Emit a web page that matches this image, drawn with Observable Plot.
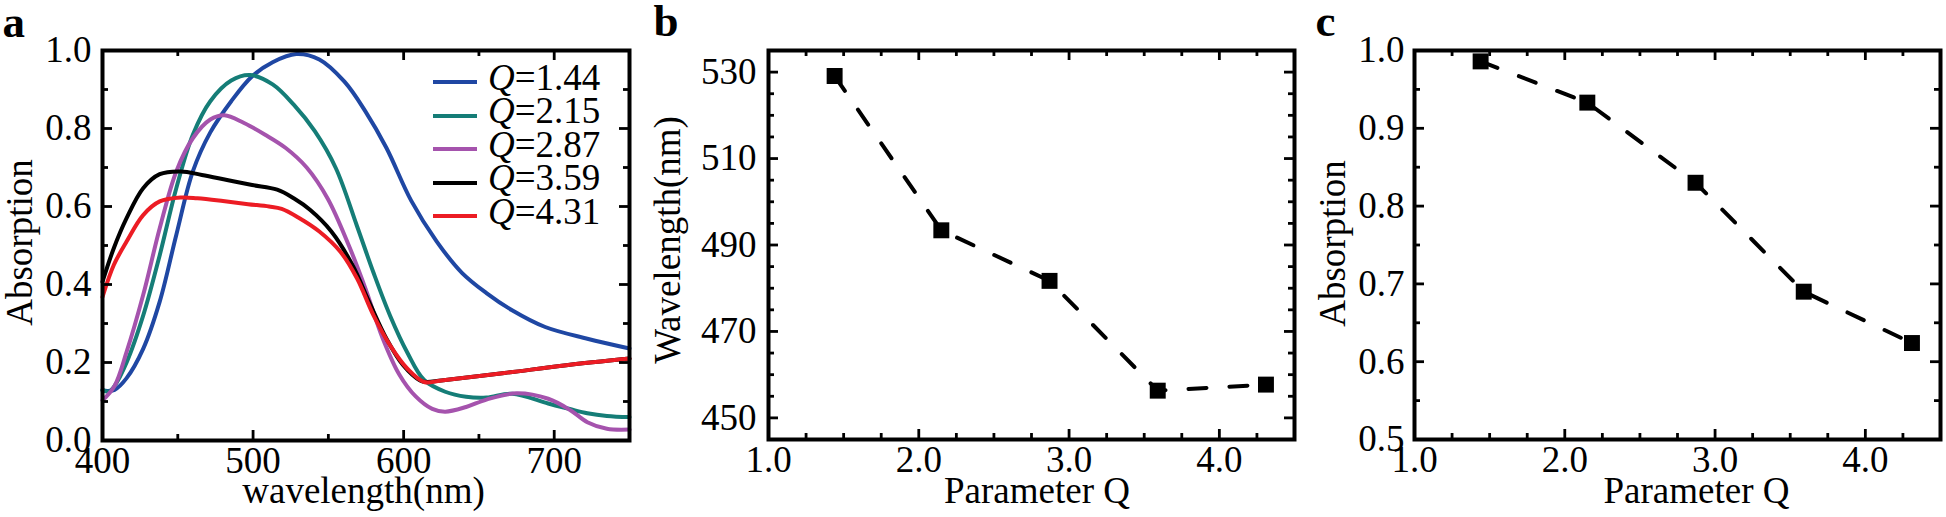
<!DOCTYPE html>
<html>
<head>
<meta charset="utf-8">
<script src="https://cdn.jsdelivr.net/npm/d3@7"></script>
<script src="https://cdn.jsdelivr.net/npm/@observablehq/plot@0.6"></script>
<style>
  html, body { margin: 0; padding: 0; background: #fff; }
  #root { position: relative; width: 1946px; height: 517px; overflow: hidden;
          font-family: "Liberation Serif", "Times New Roman", serif; color: #000; }
  .panel { position: absolute; top: 0; }
  #legend { position: absolute; left: 433px; top: 60.75px; font-size: 37px; }
  .row { display: flex; align-items: flex-start; height: 33.5px; line-height: 33.5px; white-space: nowrap; }
  .sw { width: 44px; height: 4px; margin-top: 19.25px; margin-right: 11px; flex: none; }
</style>
</head>
<body>
<div id="root">
  <div id="pa" class="panel" style="left:0px"></div>
  <div id="pb" class="panel" style="left:640px"></div>
  <div id="pc" class="panel" style="left:1290px"></div>
  <div id="legend"></div>
</div>
<script>
// ---------- Data (panel a: absorption spectra, [wavelength nm, absorption]) ----------
const qLabels = ["1.44", "2.15", "2.87", "3.59", "4.31"];
const qColors = ["#1f47a3", "#157d77", "#a553ad", "#000000", "#ec1c24"];

const specQ144 = [[400,0.128],[408,0.13],[416,0.16],[427,0.235],[438,0.356],[449,0.527],[460,0.69],[471.6,0.79],[485.5,0.87],[499.4,0.934],[513,0.97],[528.7,0.991],[544,0.977],[560.7,0.92],[574.6,0.844],[588.6,0.75],[605,0.615],[622,0.51],[638.7,0.43],[655,0.378],[672,0.334],[694,0.291],[722,0.261],[750,0.236]];
const specQ215 = [[400,0.13],[404,0.125],[408,0.14],[416,0.2],[427,0.32],[438,0.475],[449,0.647],[460,0.784],[471.6,0.87],[485.5,0.923],[498,0.937],[513,0.913],[527,0.861],[541,0.793],[555,0.698],[569,0.55],[580,0.43],[591,0.32],[602.5,0.225],[613.6,0.155],[627.6,0.125],[641.5,0.112],[655,0.11],[672,0.12],[696,0.095],[711,0.08],[722,0.07],[735,0.063],[750,0.06]];
const specQ287 = [[400,0.103],[408,0.14],[416,0.227],[427,0.373],[438,0.544],[449,0.69],[460,0.775],[471.6,0.823],[481,0.834],[494,0.814],[508,0.784],[521.7,0.75],[535.6,0.7],[549.6,0.62],[563.6,0.5],[574.6,0.39],[585.8,0.265],[597,0.17],[608,0.113],[619,0.081],[627.6,0.074],[641.5,0.086],[655,0.105],[675,0.121],[696,0.107],[711,0.077],[722,0.047],[735,0.03],[750,0.028]];
const specQ359 = [[400,0.407],[407.5,0.493],[416,0.57],[427,0.647],[438,0.683],[452,0.69],[466,0.681],[482.7,0.668],[499.4,0.655],[516,0.643],[527,0.621],[538,0.591],[552,0.536],[566,0.45],[577,0.356],[588.6,0.261],[599.7,0.193],[610.9,0.154],[615,0.15],[625,0.154],[667,0.173],[708,0.193],[750,0.21]];
const specQ431 = [[400,0.368],[407.5,0.45],[416,0.51],[427,0.578],[438,0.613],[452,0.623],[463,0.621],[480,0.614],[496.7,0.606],[510.6,0.6],[519,0.594],[530,0.572],[544,0.536],[558,0.484],[569,0.416],[580,0.321],[591,0.244],[602.5,0.184],[613.6,0.15],[625,0.154],[667,0.173],[708,0.193],[750,0.21]];
const spectra = [specQ144, specQ215, specQ287, specQ359, specQ431];

// ---------- Data (panels b, c) ----------
const paramQ = [1.44, 2.15, 2.87, 3.59, 4.31];
const peakWavelength = [529.1, 493.4, 481.7, 456.3, 457.7];
const peakAbsorption = [0.986, 0.933, 0.830, 0.690, 0.624];

// ---------- Tick values ----------
const aXMajor = [400, 500, 600, 700], aXMinor = [450, 550, 650];
const aYMajor = [0, 0.2, 0.4, 0.6, 0.8, 1.0], aYMinor = [0.1, 0.3, 0.5, 0.7, 0.9];
const qXMajor = [1, 2, 3, 4], qXMinor = [1.25, 1.5, 1.75, 2.25, 2.5, 2.75, 3.25, 3.5, 3.75, 4.25];
const bYMajor = [450, 470, 490, 510, 530], bYMinor = [455, 460, 465, 475, 480, 485, 495, 500, 505, 515, 520, 525];
const cYMajor = [0.5, 0.6, 0.7, 0.8, 0.9, 1.0], cYMinor = [0.55, 0.65, 0.75, 0.85, 0.95];

const H = 517;
const FONT = '"Liberation Serif", "Times New Roman", serif';

function panel(cfg) {
  const fw = cfg.width - cfg.mL - cfg.mR, fh = H - cfg.mT - cfg.mB;
  const tk = {stroke: "#000", strokeWidth: 2.8};
  const MAJ = 10, MIN = 6;
  return Plot.plot({
    width: cfg.width, height: H,
    marginLeft: cfg.mL, marginRight: cfg.mR, marginTop: cfg.mT, marginBottom: cfg.mB,
    x: {domain: cfg.xDomain},
    y: {domain: cfg.yDomain},
    style: {fontFamily: FONT, fontSize: "37px", color: "#000", background: "transparent", overflow: "visible"},
    marks: [
      ...cfg.marks,
      // inward ticks on all four sides
      Plot.tickX(cfg.xMajor, {x: d => d, insetTop: fh - MAJ, ...tk}),
      Plot.tickX(cfg.xMajor, {x: d => d, insetBottom: fh - MAJ, ...tk}),
      Plot.tickX(cfg.xMinor, {x: d => d, insetTop: fh - MIN, ...tk}),
      Plot.tickX(cfg.xMinor, {x: d => d, insetBottom: fh - MIN, ...tk}),
      Plot.tickY(cfg.yMajor, {y: d => d, insetRight: fw - MAJ, ...tk}),
      Plot.tickY(cfg.yMajor, {y: d => d, insetLeft: fw - MAJ, ...tk}),
      Plot.tickY(cfg.yMinor, {y: d => d, insetRight: fw - MIN, ...tk}),
      Plot.tickY(cfg.yMinor, {y: d => d, insetLeft: fw - MIN, ...tk}),
      Plot.axisX({ticks: cfg.xMajor, tickSize: 0, tickPadding: 6, tickFormat: cfg.xFmt, label: null}),
      Plot.axisY({ticks: cfg.yMajor, tickSize: 0, tickPadding: cfg.yPad, tickFormat: cfg.yFmt, label: null}),
      Plot.frame({stroke: "#000", strokeWidth: 4}),
      Plot.text([cfg.xTitle], {text: d => d, frameAnchor: "bottom", textAnchor: "middle", lineAnchor: "bottom", dx: cfg.xtDx, dy: cfg.xtDy, fontSize: 37}),
      Plot.text([cfg.yTitle], {text: d => d, frameAnchor: "left", textAnchor: "middle", rotate: -90, lineAnchor: "bottom", dx: cfg.ytDx, dy: cfg.ytDy, fontSize: 37}),
      Plot.text([cfg.tag], {text: d => d, frameAnchor: "top-left", textAnchor: "start", lineAnchor: "bottom", dx: cfg.tagDx, dy: cfg.tagDy, fontSize: 45, fontWeight: "bold"})
    ]
  });
}

// ---------- Panel a ----------
const aMarks = spectra.map((s, i) => Plot.line(s, {
  x: d => d[0], y: d => d[1], stroke: qColors[i], strokeWidth: 4, curve: "catmull-rom"
}));
document.getElementById("pa").append(panel({
  width: 650, mL: 102, mR: 21, mT: 50, mB: 77,
  xDomain: [400, 750], yDomain: [0, 1],
  xMajor: aXMajor, xMinor: aXMinor, yMajor: aYMajor, yMinor: aYMinor,
  xFmt: d => String(d), yFmt: d3.format(".1f"), yPad: 11,
  xTitle: "wavelength(nm)", xtDx: -2.5, xtDy: 62,
  yTitle: "Absorption", ytDx: -71, ytDy: -3,
  tag: "a", tagDx: -100, tagDy: -14,
  marks: aMarks
}));

// ---------- Panel b ----------
const bData = paramQ.map((q, i) => ({q, v: peakWavelength[i]}));
document.getElementById("pb").append(panel({
  width: 680, mL: 128, mR: 26, mT: 50, mB: 78,
  xDomain: [1, 4.5], yDomain: [445, 535],
  xMajor: qXMajor, xMinor: qXMinor, yMajor: bYMajor, yMinor: bYMinor,
  xFmt: d3.format(".1f"), yFmt: d => String(d), yPad: 12,
  xTitle: "Parameter Q", xtDx: 5.5, xtDy: 63,
  yTitle: "Wavelength(nm)", ytDx: -89, ytDy: -5,
  tag: "b", tagDx: -115, tagDy: -15,
  marks: [
    Plot.line(bData, {x: "q", y: "v", stroke: "#000", strokeWidth: 4, strokeDasharray: "18,23"}),
    Plot.dot(bData, {x: "q", y: "v", symbol: "square", r: 9, fill: "#000"})
  ]
}));

// ---------- Panel c ----------
const cData = paramQ.map((q, i) => ({q, v: peakAbsorption[i]}));
document.getElementById("pc").append(panel({
  width: 656, mL: 124, mR: 6, mT: 50, mB: 78,
  xDomain: [1, 4.5], yDomain: [0.5, 1.0],
  xMajor: qXMajor, xMinor: qXMinor, yMajor: cYMajor, yMinor: cYMinor,
  xFmt: d3.format(".1f"), yFmt: d3.format(".1f"), yPad: 10,
  xTitle: "Parameter Q", xtDx: 19, xtDy: 63,
  yTitle: "Absorption", ytDx: -70, ytDy: -1.5,
  tag: "c", tagDx: -99, tagDy: -15,
  marks: [
    Plot.line(cData, {x: "q", y: "v", stroke: "#000", strokeWidth: 4, strokeDasharray: "18,23"}),
    Plot.dot(cData, {x: "q", y: "v", symbol: "square", r: 9, fill: "#000"})
  ]
}));

// ---------- Legend (panel a) ----------
const legend = document.getElementById("legend");
qLabels.forEach((q, i) => {
  const row = document.createElement("div");
  row.className = "row";
  const sw = document.createElement("span");
  sw.className = "sw";
  sw.style.background = qColors[i];
  const tx = document.createElement("span");
  const it = document.createElement("i");
  it.textContent = "Q";
  tx.append(it, "=" + q);
  row.append(sw, tx);
  legend.append(row);
});
</script>
</body>
</html>
